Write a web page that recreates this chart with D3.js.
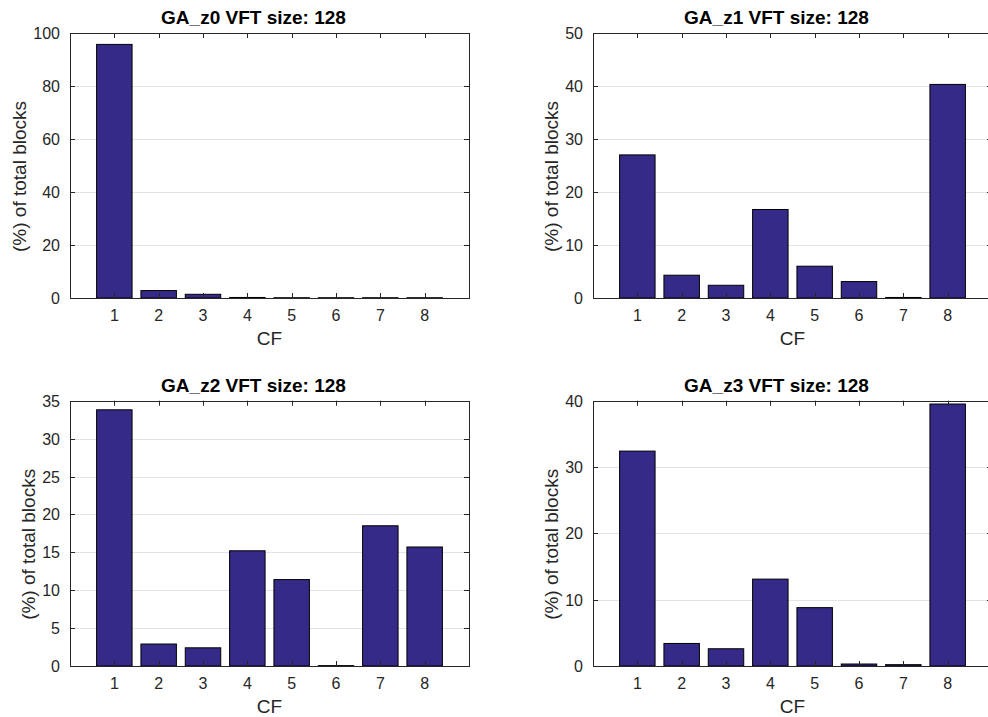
<!DOCTYPE html>
<html>
<head>
<meta charset="utf-8">
<script src="https://cdn.jsdelivr.net/npm/d3@7"></script>
<style>
  body { margin: 0; background: #fff; }
  svg { display: block; font-family: "Liberation Sans", Arial, sans-serif; }
  .grid line { stroke: #e3e3e3; stroke-width: 1; }
  .frame { fill: none; stroke: #262626; stroke-width: 1; }
  .tick-mark { stroke: #262626; stroke-width: 1; }
  .tlabel { font-size: 16px; fill: #262626; }
  .alabel { font-size: 19px; fill: #262626; }
  .title { font-size: 19px; font-weight: bold; fill: #000; }
</style>
</head>
<body>
<div id="chart"></div>
<script>
// data
var categories = [1, 2, 3, 4, 5, 6, 7, 8];
var titles = ["GA_z0 VFT size: 128", "GA_z1 VFT size: 128", "GA_z2 VFT size: 128", "GA_z3 VFT size: 128"];
var z0 = [95.7, 2.8, 1.4, 0.2, 0.1, 0.1, 0.1, 0.1];
var z1 = [27.0, 4.3, 2.4, 16.7, 6.0, 3.1, 0.1, 40.3];
var z2 = [33.8, 2.9, 2.4, 15.2, 11.4, 0.05, 18.5, 15.7];
var z3 = [32.4, 3.4, 2.6, 13.1, 8.8, 0.3, 0.2, 39.5];
var yTicks0 = [0, 20, 40, 60, 80, 100];
var yTicks1 = [0, 10, 20, 30, 40, 50];
var yTicks2 = [0, 5, 10, 15, 20, 25, 30, 35];
var yTicks3 = [0, 10, 20, 30, 40];
var xLabel = "CF";
var yLabel = "(%) of total blocks";

var series = [z0, z1, z2, z3];
var yTickSets = [yTicks0, yTicks1, yTicks2, yTicks3];

// panel layout (pixels)
var layout = [
  {left: 70,  top: 33,    width: 399, height: 265},
  {left: 593, top: 33,    width: 399, height: 265},
  {left: 70,  top: 400.7, width: 399, height: 265.3},
  {left: 593, top: 400.7, width: 399, height: 265.3}
];

var svg = d3.select("#chart").append("svg")
            .attr("width", 988)
            .attr("height", 717);

function drawPanel(i) {
  var box = layout[i];
  var values = series[i];
  var ticks = yTickSets[i];

  var x = d3.scaleLinear().domain([0, 9]).range([box.left, box.left + box.width]);
  var y = d3.scaleLinear().domain([0, d3.max(ticks)]).range([box.top + box.height, box.top]);
  var step = x(1) - x(0);
  var tl = 5;

  var g = svg.append("g");

  // grid
  g.append("g").attr("class", "grid")
    .selectAll("line")
    .data(ticks.slice(1, -1))
    .enter()
    .append("line")
    .attr("x1", x(0)).attr("x2", x(9))
    .attr("y1", function(d) { return Math.round(y(d)) + 0.5; })
    .attr("y2", function(d) { return Math.round(y(d)) + 0.5; });

  // bars
  g.selectAll("rect.bar")
    .data(values)
    .enter()
    .append("rect")
    .attr("class", "bar")
    .attr("fill", "#352a87")
    .attr("stroke", "#000")
    .attr("stroke-width", 1)
    .attr("x", function(d, k) { return x(categories[k]) - 0.4 * step; })
    .attr("width", 0.8 * step)
    .attr("y", function(d) { return y(d); })
    .attr("height", function(d) { return y(0) - y(d); });

  // frame
  g.append("rect").attr("class", "frame")
    .attr("x", Math.round(x(0)) + 0.5)
    .attr("y", Math.round(y(d3.max(ticks))) + 0.5)
    .attr("width", Math.round(box.width))
    .attr("height", Math.round(box.height));

  // x tick marks, bottom and top
  categories.forEach(function(c) {
    var px = Math.round(x(c)) + 0.5;
    g.append("line").attr("class", "tick-mark")
      .attr("x1", px).attr("x2", px)
      .attr("y1", y(0)).attr("y2", y(0) - tl);
    g.append("line").attr("class", "tick-mark")
      .attr("x1", px).attr("x2", px)
      .attr("y1", box.top).attr("y2", box.top + tl);
  });
  g.selectAll("text.xt")
    .data(categories)
    .enter()
    .append("text")
    .attr("class", "tlabel xt")
    .attr("text-anchor", "middle")
    .attr("x", function(d) { return x(d); })
    .attr("y", y(0) + 23)
    .text(function(d) { return d; });

  // y tick marks, left and right
  ticks.forEach(function(t) {
    var py = Math.round(y(t)) + 0.5;
    g.append("line").attr("class", "tick-mark")
      .attr("x1", x(0)).attr("x2", x(0) + tl)
      .attr("y1", py).attr("y2", py);
    g.append("line").attr("class", "tick-mark")
      .attr("x1", x(9)).attr("x2", x(9) - tl)
      .attr("y1", py).attr("y2", py);
  });
  var yt = g.selectAll("text.yt")
    .data(ticks)
    .enter()
    .append("text")
    .attr("class", "tlabel yt")
    .attr("text-anchor", "end")
    .attr("x", x(0) - 10)
    .attr("y", function(d) { return y(d) + 6; })
    .text(function(d) { return d; });

  var maxW = 0;
  yt.each(function() { maxW = Math.max(maxW, this.getComputedTextLength()); });

  // axis labels
  var midY = box.top + box.height / 2 + 11;
  var lx = x(0) - 10 - maxW - 7;
  g.append("text")
    .attr("class", "alabel")
    .attr("text-anchor", "middle")
    .attr("transform", "translate(" + lx + "," + midY + ") rotate(-90)")
    .text(yLabel);

  g.append("text")
    .attr("class", "alabel")
    .attr("text-anchor", "middle")
    .attr("x", box.left + box.width / 2)
    .attr("y", y(0) + 47)
    .text(xLabel);

  // title
  g.append("text")
    .attr("class", "title")
    .attr("text-anchor", "middle")
    .attr("x", box.left + box.width / 2 - 16)
    .attr("y", box.top - 9)
    .text(titles[i]);
}

for (var i = 0; i < 4; i++) {
  drawPanel(i);
}
</script>
</body>
</html>
